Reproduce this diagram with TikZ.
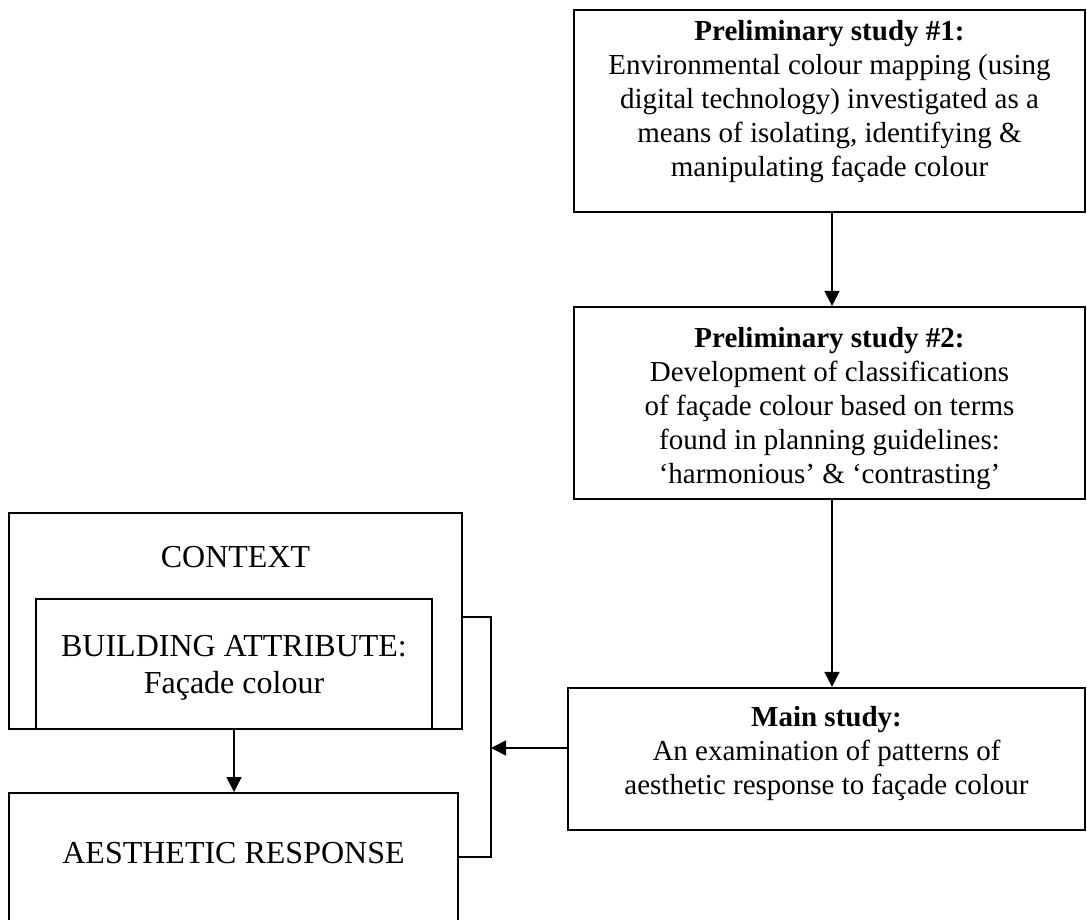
\documentclass[tikz,border=0pt]{standalone}
\usepackage{fontspec}
\setmainfont{Liberation Serif}
\usetikzlibrary{arrows.meta,calc}
\begin{document}
\begin{tikzpicture}[x=1pt,y=-1pt,
  frame/.style={draw,line width=2.2pt,inner sep=0pt},
  thinframe/.style={draw,line width=1.8pt,inner sep=0pt},
  rtext/.style={align=center,inner sep=0pt,anchor=north,font=\fontsize{29}{34}\selectfont},
  ltext/.style={align=center,inner sep=0pt,anchor=north,font=\fontsize{32}{37}\selectfont},
  wire/.style={line width=1.5pt},
  link/.style={line width=1.5pt,-{Triangle[length=15pt,width=15pt]}},
]
\useasboundingbox (0,0) rectangle (1087,920);
\clip (0,0) rectangle (1087,920);

% study boxes on the right
\node[frame,minimum width=511pt,minimum height=202pt] (p1) at (829.5,111) {};
\node[frame,minimum width=511pt,minimum height=192pt] (p2) at (829.5,403) {};
\node[frame,minimum width=517pt,minimum height=142pt] (main) at (826.5,759) {};

\node[rtext] (p1t) at (829.5,20) {\textbf{Preliminary study \#1:}\\
  Environmental colour mapping (using\\
  digital technology) investigated as a\\
  means of isolating, identifying \&\\
  manipulating façade colour};
\node[rtext] (p2t) at (829.5,327) {\textbf{Preliminary study \#2:}\\
  Development of classifications\\
  of façade colour based on terms\\
  found in planning guidelines:\\
  ‘harmonious’ \& ‘contrasting’};
\node[rtext] (maint) at (826.5,706) {\textbf{Main study:}\\
  An examination of patterns of\\
  aesthetic response to façade colour};

% context, attribute and response boxes on the left
\node[thinframe,minimum width=453pt,minimum height=216pt] (ctx) at (235.5,621) {};
\node[frame,minimum width=396pt,minimum height=130pt] (attr) at (234,664) {};
\node[thinframe,minimum width=449pt,minimum height=167pt] (resp) at (233.5,876.5) {};

\node[ltext] (ctxt) at (235.5,546) {CONTEXT};
\node[ltext] (attrt) at (234,635) {BUILDING ATTRIBUTE:\\ Façade colour};
\node[ltext] (respt) at (233.5,842) {AESTHETIC RESPONSE};

% connectors
\coordinate (a1) at ([xshift=2.5pt]p1.south);
\coordinate (a2) at ([xshift=2.5pt]p2.south);
\draw[link] (a1) -- (a1 |- p2.north);
\draw[link] (a2) -- (a2 |- main.north);
\draw[link] (attr.south) -- (attr.south |- resp.north);

\coordinate (bt) at (491,617);
\coordinate (bb) at (491,857);
\coordinate (join) at (491,748);
\draw[wire] (ctx.east |- bt) -- (bt) -- (bb) -- (resp.east |- bb);
\draw[link] (main.west |- join) -- (join);
\end{tikzpicture}
\end{document}
